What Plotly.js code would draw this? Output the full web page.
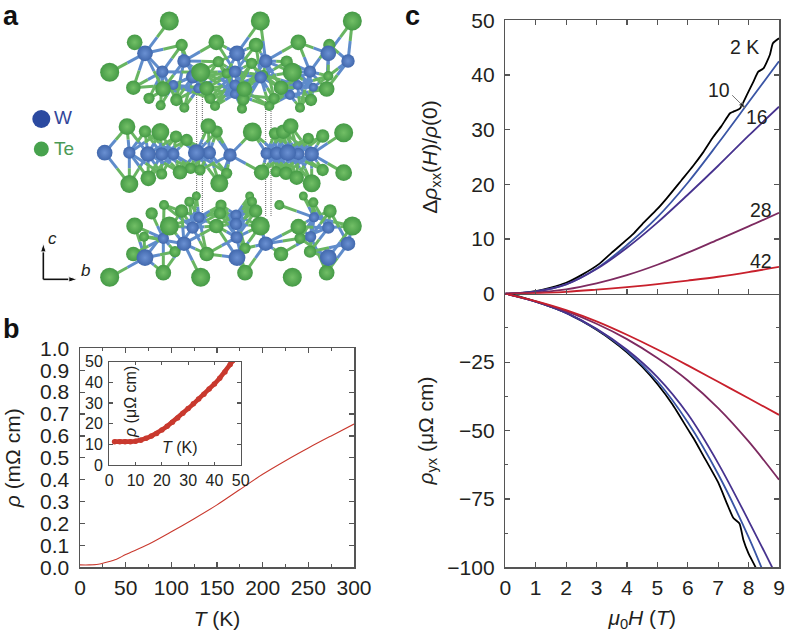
<!DOCTYPE html>
<html><head><meta charset="utf-8">
<script src="https://cdn.plot.ly/plotly-3.0.1.min.js"></script>
<style>html,body{margin:0;padding:0;background:#fff}</style></head>
<body><div id="chart" style="width:788px;height:633px"></div>
<script>
// Panel a: atoms [across, down, diameter]
const teTop=[[508,63,17],[781,63,17],[1057,63,17],[404,127,14],[649,127,14],[895,127,14],[545,135,11],[768,135,13],[988,135,11],[329,217,17],[602,217,17],[877,217,17],[400,263,13],[489,267,14],[620,265,13],[733,267,14],[843,263,13],[980,267,14],[447,295,10],[529,300,11],[630,295,10],[730,298,11],[822,295,10],[933,300,11],[482,316,9],[553,323,9],[645,318,9],[726,326,9],[808,318,9],[900,323,9],[655,185,10],[755,190,10],[860,185,11],[680,220,9],[790,225,9],[985,228,9]];
const wTop=[[435,160,14],[711,160,14],[985,160,14],[552,183,12],[797,183,12],[1044,183,12],[487,215,11],[705,215,11],[930,215,11],[578,230,12],[782,232,11],[520,255,9],[705,255,10],[893,255,9],[595,265,9],[870,285,9],[705,282,9],[940,262,8]];
const teMid=[[381,380,15],[435,394,11],[481,396,16],[528,410,11],[560,420,11],[625,378,14],[650,395,11],[757,396,17],[825,400,11],[850,395,13],[872,378,14],[925,415,10],[968,408,12],[1031,398,17],[388,552,16],[445,535,14],[485,522,10],[540,517,13],[572,505,10],[600,510,10],[658,550,16],[680,520,10],[785,517,14],[828,515,10],[858,520,12],[890,533,13],[935,550,16],[968,510,11],[1031,518,15]];
const wMid=[[314,458,14],[388,458,11],[444,462,14],[485,462,12],[520,462,11],[589,458,15],[628,458,12],[690,465,12],[800,460,11],[830,460,12],[863,458,15],[895,462,11],[935,462,13]];
const teBot=[[589,588,8],[492,615,9],[568,605,9],[749,588,8],[756,605,9],[838,615,9],[910,588,8],[940,607,9],[455,640,11],[545,633,12],[663,615,10],[660,640,11],[767,633,12],[990,633,12],[404,678,15],[508,678,17],[649,678,13],[781,678,17],[895,680,14],[1057,678,17],[620,762,13],[400,762,13],[843,762,13],[432,710,9],[525,755,10],[735,818,14],[490,818,14],[602,832,17],[329,832,17],[877,832,17],[980,818,14],[735,745,10],[930,755,11],[900,715,10]];
const wBot=[[435,773,15],[711,773,15],[985,773,15],[552,731,13],[797,731,13],[1044,731,13],[490,715,10],[710,712,11],[932,710,10],[578,683,11],[708,672,11],[985,683,11],[597,652,10],[708,645,10],[942,652,9]];
const cellLinesX=[590,607,797,813];

// Panel b
const tempB=[0,10,20,30,40,50,75,100,125,150,175,200,225,250,275,300];
const rhoB=[0.011,0.011,0.014,0.024,0.037,0.058,0.105,0.162,0.222,0.285,0.355,0.425,0.487,0.545,0.6,0.654];
const tempInset=[2,4,6,8,10,12,14,16,18,20,22,24,26,28,30,32,34,36,38,40,42,44,46,47];
const rhoInset=[11.3,11.2,11.2,11.3,11.5,12,12.9,14,15.3,17,18.7,20.7,22.8,25,27.3,29.6,31.9,34.2,36.8,39.2,42,45,48.7,50.5];

// Panel c, upper
const hField=[0,1,2,3,4,5,6,7,8,9];
const h2K=[0,0.5,1,1.5,2,2.5,3.1,3.5,4.2,4.5,5,5.3,5.8,6.18,6.5,6.84,7.1,7.39,7.5,7.72,7.94,8.16,8.32,8.49,8.7,8.8,9];
const mr2K=[0,0.1,0.45,1.1,2,3.4,5.5,7.5,10.9,12.7,15.5,17.4,20.8,23.4,25.8,28.7,30.6,33,33.3,33.9,36.3,38.8,40.6,41.2,43.7,45.8,46.7];
const mr10K=[0,0.4,1.7,4.6,8.9,14,20.3,27.5,35,42.5];
const mr16K=[0,0.4,1.7,4.5,8.4,13,18.1,23.4,28.9,34.2];
const mr28K=[0,0.2,0.8,1.9,3.4,5.3,7.5,9.9,12.3,14.8];
const mr42K=[0,0.08,0.35,0.75,1.2,1.75,2.4,3.1,3.95,4.9];
const leaderH=[7.46,7.88];
const leaderMr=[36.3,34];

// Panel c, lower
const hHall2K=[0,0.5,1,1.5,2,2.5,3,3.5,4,4.5,5,5.5,6,6.2,6.5,7,7.3,7.5,7.7,7.83,8,8.23,8.5];
const hall2K=[0,-1.2,-2.9,-4.8,-7,-9.9,-13.2,-17,-21.4,-26.7,-33,-40.5,-49.5,-53,-59,-69,-77,-82,-84,-90,-95,-100,-108];
const hall10K=[0,-2.9,-7,-13,-21,-32,-47,-66,-89,-116];
const hall16K=[0,-2.9,-7,-12.8,-20.5,-30.5,-44,-62,-83,-105];
const hall28K=[0,-2.8,-6.4,-11,-16.6,-23.5,-31.7,-41.8,-54,-68];
const hall42K=[0,-2.7,-6,-10.1,-15,-20.4,-26.2,-32.2,-38.2,-44.3];

// Panel a, axes key
const keyUpX=[130,130], keyUpY=[838,730];
const keyRightX=[130,232], keyRightY=[838,838];

const curveNames=['2 K','10','16','28','42'];
const curveColors=['#000000','#3a55a5','#47338f','#7d2a60','#c8202c'];
const redLine='#c9392e', ink='#231f20', frame='#555555';
const W=788,H=633;
const dx=(a,b)=>[a/W,b/W], dy=(t,b)=>[1-b/H,1-t/H];
const px=x=>x/W, py=y=>1-y/H;
const font='"Liberation Sans",Arial,sans-serif';

const BOND_REACH=122, ATOM_SCALE=1.12;
function bonds(ws,tes){
  const bx=[],by=[],gx=[],gy=[];
  ws.forEach(w=>tes.forEach(t=>{
    if(Math.hypot(w[0]-t[0],w[1]-t[1])<BOND_REACH){
      const mx=(w[0]+t[0])/2,my=(w[1]+t[1])/2;
      bx.push(w[0],mx,null);by.push(w[1],my,null);
      gx.push(mx,t[0],null);gy.push(my,t[1],null);
    }}));
  return {bx,by,gx,gy};
}
const B=[bonds(wTop,teTop),bonds(wMid,teMid),bonds(wBot,teBot)];
const concat=k=>B.reduce((a,b)=>a.concat(b[k]),[]);
const atoms=[].concat(
  teTop.map(a=>[...a,'te']),wTop.map(a=>[...a,'w']),
  teMid.map(a=>[...a,'te']),wMid.map(a=>[...a,'w']),
  teBot.map(a=>[...a,'te']),wBot.map(a=>[...a,'w'])
).sort((p,q)=>p[2]-q[2]);

const traces=[];
const quiet={xaxis:'x',yaxis:'y',hoverinfo:'skip',showlegend:false};
cellLinesX.forEach(x=>traces.push(Object.assign({x:[x,x],y:[285,650],mode:'lines',line:{color:'#666',width:1,dash:'1px,1px'}},quiet)));
traces.push(Object.assign({x:concat('bx'),y:concat('by'),mode:'lines',connectgaps:false,line:{color:'#5f8ccb',width:3}},quiet));
traces.push(Object.assign({x:concat('gx'),y:concat('gy'),mode:'lines',connectgaps:false,line:{color:'#68b561',width:3}},quiet));
traces.push(Object.assign({x:atoms.map(a=>a[0]),y:atoms.map(a=>a[1]),mode:'markers',
  marker:{size:atoms.map(a=>a[2]*ATOM_SCALE),opacity:1,color:atoms.map(a=>a[3]==='te'?'#459a46':'#4168ad'),line:{width:0},
    gradient:{type:'radial',color:atoms.map(a=>a[3]==='te'?'#72bf66':'#6a90d2')}}},quiet));
traces.push(Object.assign({x:[124,124],y:[357,447],mode:'markers',marker:{size:[18,15],opacity:1,color:['#2b4aa0','#47a24d'],line:{width:0}}},quiet));
[[keyUpX,keyUpY],[keyRightX,keyRightY]].forEach(k=>traces.push(Object.assign({x:k[0],y:k[1],mode:'lines+markers',line:{color:'#111',width:1.6},
  marker:{symbol:'arrow',angleref:'previous',size:[0,9],opacity:1,color:'#111'}},quiet)));

traces.push({x:tempB,y:rhoB,mode:'lines',xaxis:'x2',yaxis:'y2',line:{color:redLine,width:1.1,shape:'spline',smoothing:0.8},showlegend:false});
traces.push({x:tempInset,y:rhoInset,mode:'lines+markers',xaxis:'x3',yaxis:'y3',line:{color:redLine,width:4.6},marker:{color:redLine,size:5.5},showlegend:false});

[[h2K,mr2K],[hField,mr10K],[hField,mr16K],[hField,mr28K],[hField,mr42K]].forEach((d,i)=>
  traces.push({x:d[0],y:d[1],mode:'lines',xaxis:'x4',yaxis:'y4',name:curveNames[i],showlegend:false,line:{color:curveColors[i],width:1.8,shape:'spline',smoothing:i?1:0.5}}));
[[hHall2K,hall2K],[hField,hall10K],[hField,hall16K],[hField,hall28K],[hField,hall42K]].forEach((d,i)=>
  traces.push({x:d[0],y:d[1],mode:'lines',xaxis:'x5',yaxis:'y5',name:curveNames[i],showlegend:false,line:{color:curveColors[i],width:1.8,shape:'spline',smoothing:i?1:0.5}}));
traces.push({x:leaderH,y:leaderMr,mode:'lines+markers',xaxis:'x4',yaxis:'y4',hoverinfo:'skip',showlegend:false,line:{color:'#777',width:1},
  marker:{symbol:'arrow',angleref:'previous',size:[0,6],opacity:1,color:'#111'}});

const base={showgrid:false,zeroline:false,showline:true,linecolor:frame,linewidth:1.5,mirror:'ticks',ticks:'inside',tickcolor:frame,tickwidth:1.2,ticklen:5,
  tickfont:{family:font,size:21,color:ink},ticklabelstandoff:5};
const minor=(d,l)=>({dtick:d,ticks:'inside',ticklen:l,tickcolor:frame,tickwidth:1,showgrid:false});
const tfont={family:font,size:21,color:ink};

const ann=(x,y,text,size,extra)=>Object.assign({xref:'paper',yref:'paper',x:px(x),y:py(y),text,showarrow:false,xanchor:'center',yanchor:'middle',font:{family:font,size,color:ink}},extra||{});
const bold={family:font,size:27,color:'#111'};

const layout={width:W,height:H,margin:{l:0,r:0,t:0,b:0},paper_bgcolor:'#fff',plot_bgcolor:'rgba(0,0,0,0)',showlegend:false,font:{family:font,color:ink},
  xaxis:{domain:dx(0,390),range:[0,1170],visible:false,fixedrange:true},
  yaxis:{domain:dy(0,310),range:[930,0],visible:false,fixedrange:true,anchor:'x'},
  xaxis2:Object.assign({},base,{domain:dx(80,354),range:[0,300],tick0:0,dtick:50,anchor:'y2',ticklabelstandoff:1,minor:minor(25,3),title:{text:'<i>T</i> (K)',font:tfont,standoff:13}}),
  yaxis2:Object.assign({},base,{domain:dy(348.3,567.3),range:[0,1],tick0:0,dtick:0.1,tickformat:'.1f',anchor:'x2',title:{text:'<i>ρ</i> (mΩ cm)',font:tfont,standoff:13}}),
  xaxis3:Object.assign({},base,{domain:dx(109.3,240.7),range:[0,50],dtick:10,anchor:'y3',ticklen:3.5,linewidth:1.2,tickfont:{family:font,size:16,color:ink},ticklabelstandoff:1}),
  yaxis3:Object.assign({},base,{domain:dy(361.7,465),range:[0,50],dtick:10,anchor:'x3',ticklen:3.5,linewidth:1.2,tickfont:{family:font,size:16,color:ink},ticklabelstandoff:2}),
  xaxis4:Object.assign({},base,{domain:dx(505.3,779),range:[0,9],dtick:1,anchor:'y4',showticklabels:false}),
  yaxis4:Object.assign({},base,{domain:dy(20.3,293.7),range:[0,50],dtick:10,anchor:'x4',title:{text:'Δ<i>ρ</i><sub>xx</sub>(<i>H</i>)/<i>ρ</i>(0)',font:tfont,standoff:28}}),
  xaxis5:Object.assign({},base,{domain:dx(505.3,779),range:[0,9],dtick:1,anchor:'y5',mirror:false,ticklabelstandoff:1,title:{text:'<i>μ</i><sub>0</sub><i>H</i> (<i>T</i>)',font:tfont,standoff:12}}),
  yaxis5:Object.assign({},base,{domain:dy(293.7,567.3),range:[-100,0],tickvals:[-100,-75,-50,-25],ticktext:['−100','−75','−50','−25'],anchor:'x5',minor:{tickvals:[-87.5,-62.5,-37.5,-12.5],ticks:'inside',ticklen:3,tickcolor:frame,tickwidth:1,showgrid:false},title:{text:'<i>ρ</i><sub>yx</sub> (μΩ cm)',font:tfont,standoff:8}}),
  annotations:[
    ann(11,16,'<b>a</b>',27,{font:bold}),
    ann(11,329,'<b>b</b>',27,{font:bold}),
    ann(412,16,'<b>c</b>',27,{font:bold}),
    ann(63,118,'W',19,{font:{family:font,size:19,color:'#33479a'}}),
    ann(64,148,'Te',19,{font:{family:font,size:19,color:'#4b9a55'}}),
    ann(53,239,'<i>c</i>',17),
    ann(85,270,'<i>b</i>',17),
    ann(130,402,'<i>ρ</i> (μΩ cm)',16,{textangle:-90}),
    ann(180,447,'<i>T</i> (K)',16),
    ann(744,47,'2 K',19.5),
    ann(719,90,'10',19.5),
    ann(757,117,'16',19.5),
    ann(761,210,'28',19.5),
    ann(761,261,'42',19.5)
  ]};
Plotly.newPlot('chart',traces,layout,{displayModeBar:false,staticPlot:true});
</script></body></html>
